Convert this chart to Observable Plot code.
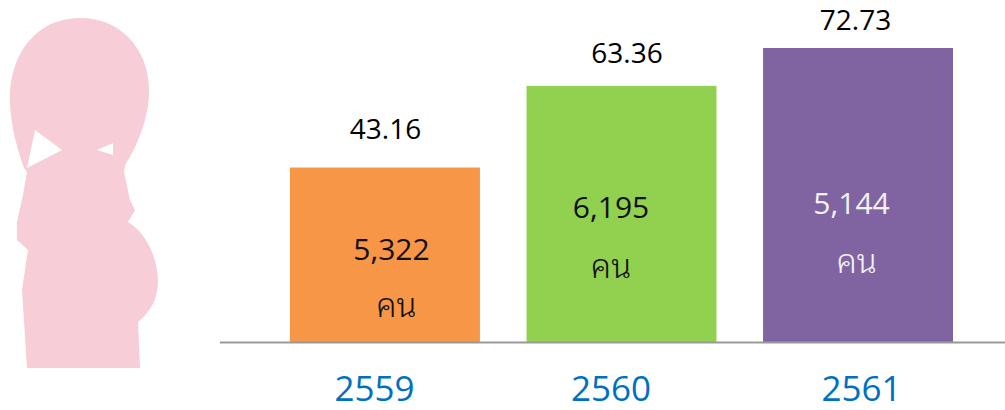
<!DOCTYPE html>
<html><head><meta charset="utf-8">
<script src="https://cdn.jsdelivr.net/npm/d3@7"></script>
<script src="https://cdn.jsdelivr.net/npm/@observablehq/plot@0.6"></script>
<style>
html,body{margin:0;padding:0;background:#fff;overflow:hidden}
#wrap{position:relative;width:1005px;height:410px}
#wrap>svg{position:absolute;left:0;top:0}
#wrap svg{font-family:"Open Sans",sans-serif}
</style></head><body><div id="wrap"><div id="chart"></div></div>
<script>
const years = ["2559","2560","2561"];
const rates = [43.16,63.36,72.73];
const rateLabels = ["43.16","63.36","72.73"];
const counts = ["5,322","6,195","5,144"];
const unit = "คน";
const barColors = ["#f79646","#92d050","#8064a2"];
const innerColors = ["#111111","#111111","#f2f2f2"];

const rows = years.map((year,i)=>({year,rate:rates[i],rateLabel:rateLabels[i],count:counts[i],unit,fill:barColors[i],ink:innerColors[i]}));

// hand-placed label offsets, as in the reference
const layout = {
  rateDx:[0,5,-3], rateDy:[-38,-32,-27],
  countDx:[6,-11,-7], countY:[250,208,204],
  unitDx:[11,-11,-2], unitY:[306,267,262],
  yearDx:[-11,-11,3]
};
const textMarks = rows.flatMap((r,i)=>[
  Plot.text([r],{x:"year",y:"rate",text:"rateLabel",dx:layout.rateDx[i],dy:layout.rateDy[i],fontSize:28,fontWeight:500,fill:"#000"}),
  Plot.text([r],{x:"year",frameAnchor:"top",text:"count",dx:layout.countDx[i],dy:layout.countY[i],lineAnchor:"middle",fontSize:30,fontWeight:400,fill:"ink"}),
  Plot.text([r],{x:"year",frameAnchor:"top",text:"unit",dx:layout.unitDx[i],dy:layout.unitY[i],lineAnchor:"middle",fontSize:33,fontWeight:300,fontFamily:"'Noto Sans Thai Looped','Noto Sans Thai','Noto Serif Thai',Loma,Garuda,sans-serif",fill:"ink"}),
  Plot.text([r],{x:"year",frameAnchor:"top",text:"year",dx:layout.yearDx[i],dy:389,lineAnchor:"middle",fontSize:35,fontWeight:500,fill:"#0070c0"})
]);

const chart = Plot.plot({
  width:1005,height:410,
  marginLeft:220,marginRight:0,marginTop:0,marginBottom:68,
  style:{background:"transparent",overflow:"visible"},
  x:{type:"band",domain:years,range:[290,953],paddingInner:0.197,paddingOuter:0,round:false,axis:null},
  y:{domain:[0,72.73],range:[342,48],axis:null},
  marks:[
    Plot.barY(rows,{x:"year",y:"rate",fill:"fill"}),
    Plot.ruleY([0],{stroke:"#999999",strokeWidth:2}),
    ...textMarks
  ]
});
document.getElementById("chart").appendChild(chart);

// decorative silhouette of the pregnant figure at left
const ns="http://www.w3.org/2000/svg";
const deco=document.createElementNS(ns,"svg");
deco.setAttribute("width",230);deco.setAttribute("height",410);
deco.innerHTML='<path style="filter:blur(0.7px)" fill="#f7cdd8" fill-rule="evenodd" d="M24 168C14 140 9 115 10 92C12 55 35 18 80 18C122 18 148 50 149 88C150 115 138 145 125 165L124 172L130 200L135 210L128 222C145 232 157 255 158 280C158 300 150 312 138 322L140 368L27 368L22 290L28 250L17 240L17 222L23 195L27 172ZM35 130L62 150L27 168ZM97 150L113 143L113 155Z"/>';
document.getElementById("wrap").appendChild(deco);
</script></body></html>
